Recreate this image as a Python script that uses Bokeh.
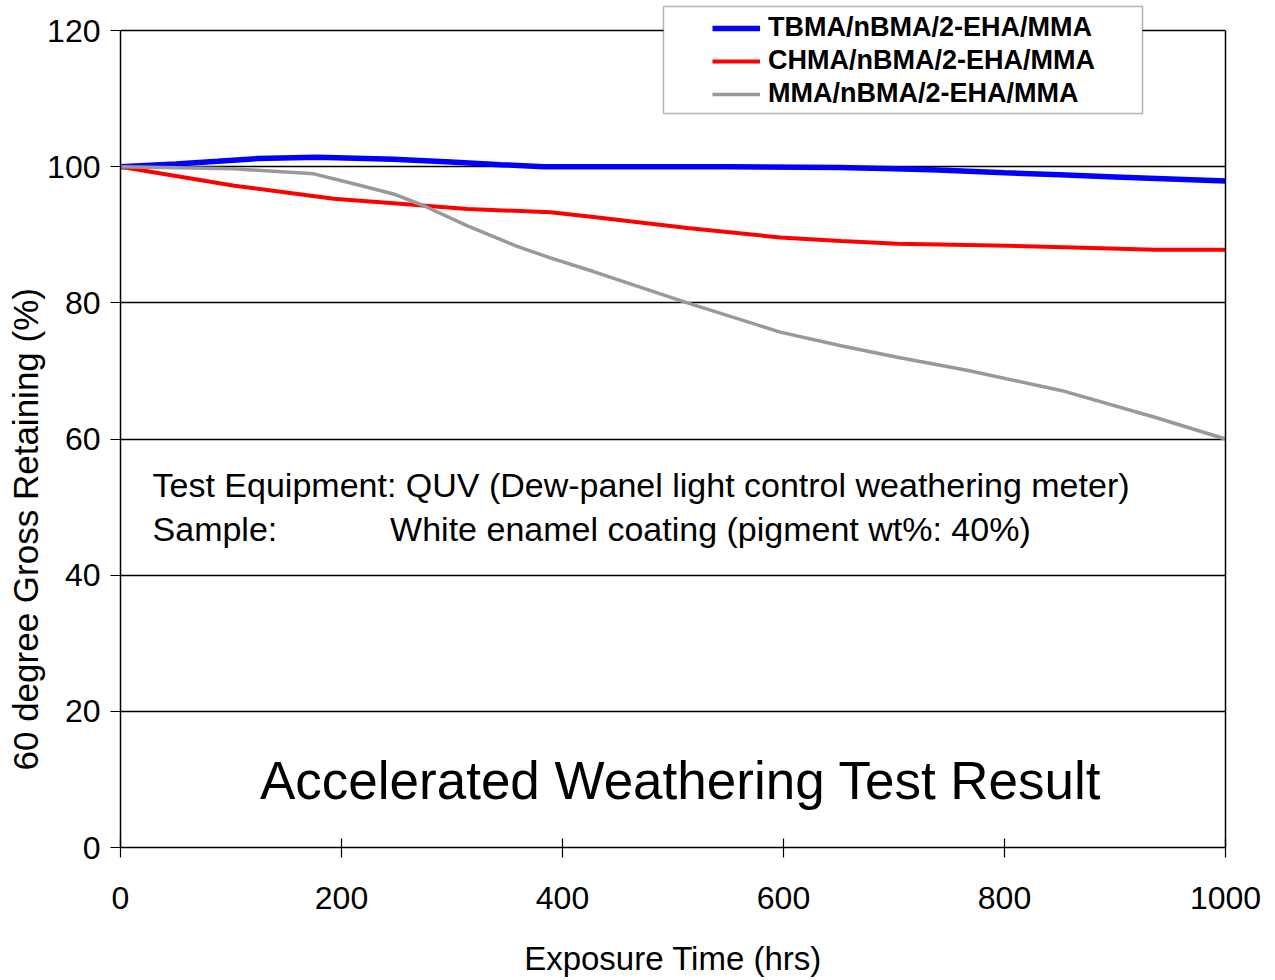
from bokeh.plotting import figure
from bokeh.models import (Range1d, FixedTicker, Label, Legend, LegendItem, BoxAnnotation,
                          LinearAxis, Title)
from bokeh.embed import file_html
from bokeh.resources import INLINE

# ---- data ----
tbma_x = [0, 50, 88, 124, 178, 247, 299, 344, 383, 450, 550, 650, 700, 740, 800, 850, 900, 950, 1000]
tbma_y = [100, 100.4, 100.8, 101.2, 101.4, 101.1, 100.7, 100.3, 100.0, 100.0, 100.0, 99.9, 99.7, 99.5, 99.1, 98.8, 98.5, 98.2, 97.9]

chma_x = [0, 103, 193, 253, 314, 389, 428, 513, 597, 652, 703, 803, 871, 936, 1000]
chma_y = [100, 97.2, 95.3, 94.55, 93.8, 93.3, 92.6, 91.0, 89.6, 89.1, 88.7, 88.4, 88.1, 87.8, 87.8]

mma_x = [0, 102, 175, 211, 247, 274, 314, 359, 389, 428, 513, 597, 652, 703, 766, 852, 936, 1000]
mma_y = [100, 99.7, 98.95, 97.5, 96.0, 94.3, 91.3, 88.3, 86.6, 84.6, 80.0, 75.7, 73.7, 72.0, 70.1, 67.1, 63.2, 60.0]

series_names = ["TBMA/nBMA/2-EHA/MMA", "CHMA/nBMA/2-EHA/MMA", "MMA/nBMA/2-EHA/MMA"]
x_ticks = [0, 200, 400, 600, 800, 1000]
y_ticks = [0, 20, 40, 60, 80, 100, 120]

FONT = "Liberation Sans"

p = figure(width=1272, height=980, output_backend="svg", toolbar_location=None,
           x_range=Range1d(0, 1000), y_range=Range1d(0, 843 / 6.808),
           min_border_left=120, min_border_right=47, min_border_top=4, min_border_bottom=133)
p.background_fill_color = "white"
p.border_fill_color = "white"
p.outline_line_color = None

# axes
p.xaxis.ticker = FixedTicker(ticks=x_ticks)
p.yaxis.ticker = FixedTicker(ticks=y_ticks)
p.yaxis.bounds = (0, 120)
for ax in (p.xaxis[0], p.yaxis[0]):
    ax.axis_line_color = "black"
    ax.axis_line_width = 1.5
    ax.major_tick_line_color = "black"
    ax.major_tick_line_width = 1.2
    ax.minor_tick_line_color = None
    ax.major_label_text_font = FONT
    ax.major_label_text_font_size = "32px"
    ax.major_label_text_color = "black"
p.xaxis.major_tick_in = 9
p.xaxis.major_tick_out = 10
p.xaxis.major_label_standoff = 29
p.yaxis.major_tick_in = 0
p.yaxis.major_tick_out = 10
p.yaxis.major_label_standoff = 10

p.xaxis.axis_label = "Exposure Time (hrs)"
p.xaxis.axis_label_text_font = FONT
p.xaxis.axis_label_text_font_size = "33px"
p.xaxis.axis_label_text_font_style = "normal"
p.xaxis.axis_label_text_color = "black"
p.xaxis.axis_label_standoff = 28

# right border as a bare axis
right_axis = LinearAxis(ticker=FixedTicker(ticks=[]), bounds=(0, 120),
                        axis_line_color="black", axis_line_width=1.5,
                        major_tick_line_color=None, minor_tick_line_color=None)
p.add_layout(right_axis, "right")

# vertical axis title
p.add_layout(Title(text="60 degree Gross Retaining (%)", align="left", offset=77,
                   text_font=FONT, text_font_size="35px", text_font_style="normal",
                   text_color="black", standoff=0), "left")

p.xgrid.grid_line_color = None
p.ygrid.ticker = FixedTicker(ticks=y_ticks)
p.ygrid.grid_line_color = "black"
p.ygrid.grid_line_width = 1.5

# lines
r1 = p.line(tbma_x, tbma_y, line_color="#0000FF", line_width=5.5)
r2 = p.line(chma_x, chma_y, line_color="#FF0000", line_width=4)
r3 = p.line(mma_x, mma_y, line_color="#999999", line_width=3.5)

# notes
p.add_layout(Label(x=29, y=53.2, text="Test Equipment: QUV (Dew-panel light control weathering meter)",
                   text_baseline="middle", text_font=FONT, text_font_size="34px", text_color="black"))
p.add_layout(Label(x=29, y=46.75, text="Sample:",
                   text_baseline="middle", text_font=FONT, text_font_size="34px", text_color="black"))
p.add_layout(Label(x=244, y=46.75, text="White enamel coating (pigment wt%: 40%)",
                   text_baseline="middle", text_font=FONT, text_font_size="34px", text_color="black"))
p.add_layout(Label(x=507, y=9.9, text="Accelerated Weathering Test Result", text_align="center",
                   text_baseline="middle", text_font=FONT, text_font_size="53px", text_color="black"))

# legend box
box = BoxAnnotation(left=543, right=1022, bottom=734, top=841,
                    left_units="screen", right_units="screen", bottom_units="screen", top_units="screen",
                    fill_color="white", fill_alpha=1.0, line_color="black", line_width=1.5)
p.add_layout(box)

legend = Legend(items=[LegendItem(label=series_names[0], renderers=[r1]),
                       LegendItem(label=series_names[1], renderers=[r2]),
                       LegendItem(label=series_names[2], renderers=[r3])],
                location=(592, 738), padding=0, margin=0, spacing=2,
                glyph_width=48, glyph_height=28, label_height=28, label_standoff=8,
                label_text_font=FONT, label_text_font_size="27px", label_text_font_style="bold",
                label_text_color="black", border_line_color=None, background_fill_alpha=0)
p.add_layout(legend)

open("out.html", "w").write(file_html(p, INLINE))
